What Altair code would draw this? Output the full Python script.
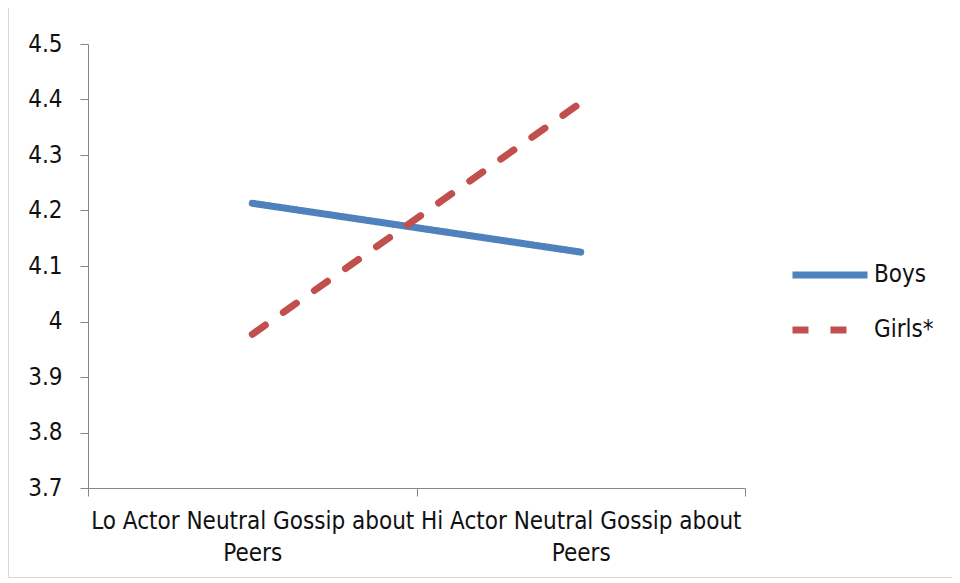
import altair as alt
import pandas as pd

categories = ["Lo Actor Neutral Gossip about Peers", "Hi Actor Neutral Gossip about Peers"]
series = ["Boys", "Girls*"]
boys = [4.213, 4.125]
girls = [3.977, 4.394]

rows = []
for name, vals in zip(series, [boys, girls]):
    for c, v in zip(categories, vals):
        rows.append({"cat": c, "series": name, "value": v})
df = pd.DataFrame(rows)

FONT = "DejaVu Sans Condensed, Liberation Sans Narrow, Lato, sans-serif"
FS = 24
W, H = 657, 444

lines = alt.Chart(df).mark_line(strokeWidth=7, strokeCap="round").encode(
    x=alt.X("cat:N", sort=categories, bandPosition=0.5,
            scale=alt.Scale(type="band", paddingInner=0, paddingOuter=0),
            axis=alt.Axis(title=None, tickBand="extent", labelAngle=0,
                          labelExpr="datum.label ? [replace(datum.label, ' Peers', ''), 'Peers'] : ''",
                          labelLineHeight=32, labelPadding=13, tickSize=8, labelLimit=400,
                          labelFontSize=FS, labelFont=FONT, labelColor="#111",
                          domainColor="#868686", tickColor="#868686", grid=False)),
    y=alt.Y("value:Q", scale=alt.Scale(domain=[3.7, 4.5], nice=False, zero=False),
            axis=alt.Axis(title=None, values=[3.7, 3.8, 3.9, 4.0, 4.1, 4.2, 4.3, 4.4, 4.5],
                          format=".1~f", tickSize=8, labelPadding=18, labelFontSize=FS,
                          labelFont=FONT, labelColor="#111", grid=False,
                          domainColor="#868686", tickColor="#868686")),
    color=alt.Color("series:N", sort=series,
                    scale=alt.Scale(domain=series, range=["#4F81BD", "#C0504D"]),
                    legend=alt.Legend(title=None, orient="none", legendX=701, legendY=190,
                                      symbolType="stroke", symbolSize=5625, symbolStrokeWidth=7,
                                      labelFontSize=FS, labelFont=FONT, labelColor="#111",
                                      rowPadding=-25, labelOffset=3)),
    strokeDash=alt.StrokeDash("series:N", sort=series,
                              scale=alt.Scale(domain=series, range=[[1, 0], [16, 22]]),
                              legend=None),
)

frame = alt.Chart(pd.DataFrame({"a": [0]})).mark_rect(
    fill="transparent", stroke="#d9d9d9", strokeWidth=1
).encode(x=alt.value(-79.5), x2=alt.value(864.5), y=alt.value(-36.5), y2=alt.value(533.5))

chart = alt.layer(frame, lines).properties(
    width=W, height=H,
    autosize=alt.AutoSizeParams(type="none"),
    padding={"left": 80, "top": 36, "right": 207, "bottom": 92},
).configure_view(strokeWidth=0)

chart.save("out.html", embed_options={"renderer": "svg", "actions": False})
